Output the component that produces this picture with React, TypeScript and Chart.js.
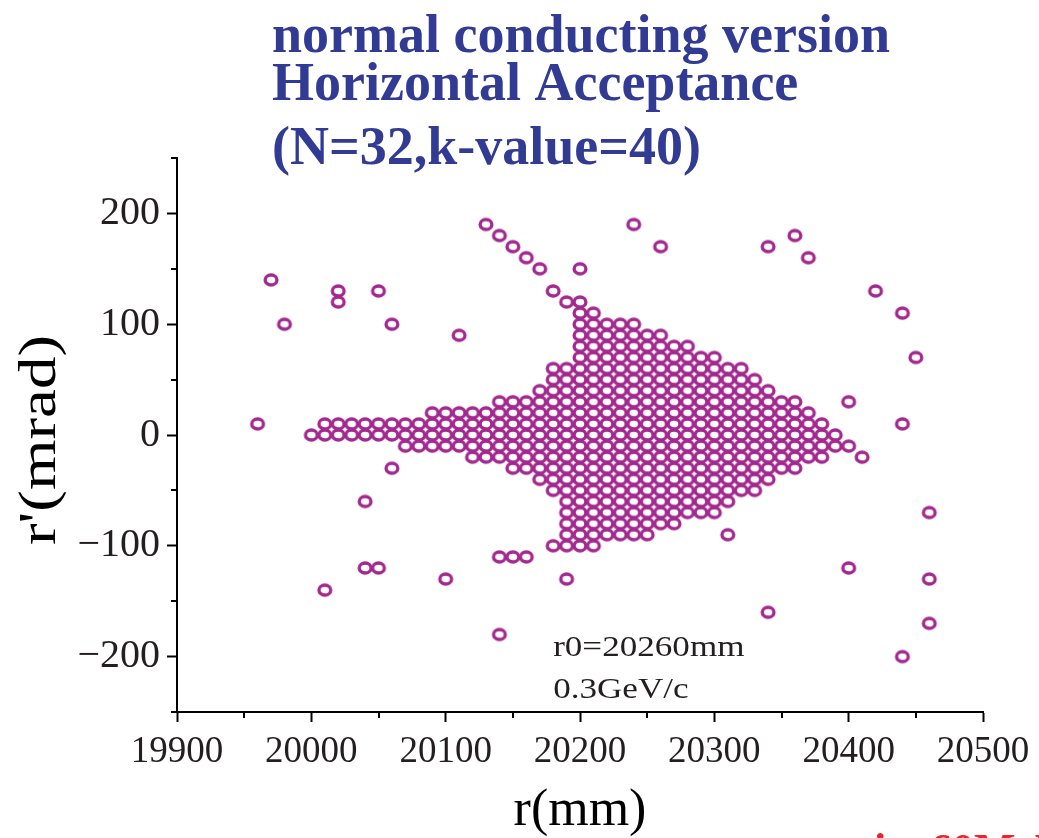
import React, { useEffect, useRef } from 'react';
import { Chart, registerables } from 'chart.js';

Chart.register(...registerables);

// ---- Text ----
const titleLines = ['normal conducting version', 'Horizontal Acceptance', '(N=32,k-value=40)'];
const noteLines = ['r0=20260mm', '0.3GeV/c'];
const xAxisTitle = 'r(mm)';
const yAxisTitle = "r'(mrad)";
const cutTextA = 'in';
const cutTextB = '60MeV';

// ---- Axes ----
const xMin = 19900;
const xMax = 20500;
const yMin = -250;
const yMax = 250;
const xMajorTicks = [19900, 20000, 20100, 20200, 20300, 20400, 20500];
const yMajorTicks = [-200, -100, 0, 100, 200];
const xMinorTicks = [19950, 20050, 20150, 20250, 20350, 20450];
const yMinorTicks = [-250, -150, -50, 50, 150, 250];

// ---- Data: dense accepted region, column by column (r in mm, r' range in mrad, 10 mrad grid) ----
const clusterR = [
  20000, 20010, 20020, 20030, 20040, 20050, 20060, 20070, 20080, 20090,
  20100, 20110, 20120, 20130, 20140, 20150, 20160, 20170, 20180, 20190,
  20200, 20210, 20220, 20230, 20240, 20250, 20260, 20270, 20280, 20290,
  20300, 20310, 20320, 20330, 20340, 20350, 20360, 20370, 20380, 20390,
  20400, 20410,
];
const clusterLow = [
  0, 0, 0, 0, 0, 0, 0, -10, -10, -10,
  -10, -10, -20, -20, -20, -30, -30, -40, -50, -100,
  -100, -100, -90, -90, -90, -90, -80, -80, -70, -70,
  -70, -60, -50, -50, -40, -30, -30, -20, -20, -10,
  -10, -20,
];
const clusterHigh = [
  0, 10, 10, 10, 10, 10, 10, 10, 10, 20,
  20, 20, 20, 20, 30, 30, 30, 40, 60, 60,
  120, 110, 100, 100, 100, 90, 90, 80, 80, 70,
  70, 60, 60, 50, 40, 30, 30, 20, 10, 0,
  -10, -20,
];
const gridStep = 10;

// ---- Data: scattered points ----
const outlierR = [
  19960, 19970, 19980, 20020, 20020, 20050, 20060, 20110, 20130, 20140,
  20150, 20160, 20170, 20180, 20190, 20200, 20240, 20260, 20340, 20360,
  20370, 20420, 20440, 20450, 20400, 20440, 20060, 20040, 20040, 20050,
  20010, 20100, 20140, 20150, 20160, 20140, 20180, 20190, 20310, 20340,
  20400, 20440, 20460, 20460, 20460,
];
const outlierRp = [
  10, 140, 100, 130, 120, 130, 100, 90, 190, 180,
  170, 160, 150, 130, 120, 150, 190, 170, 170, 180,
  160, 130, 110, 70, 30, 10, -30, -60, -120, -120,
  -140, -130, -110, -110, -110, -180, -100, -130, -90, -160,
  -120, -200, -70, -130, -170,
];

const MARKER_COLOR = '#a3288f';
const TITLE_COLOR = '#313b94';
const SERIF = "'Liberation Serif', 'Times New Roman', serif";

function buildCluster() {
  const pts: { x: number; y: number }[] = [];
  clusterR.forEach((r, i) => {
    for (let v = clusterLow[i]; v <= clusterHigh[i]; v += gridStep) {
      pts.push({ x: r, y: v });
    }
  });
  return pts;
}

export default function App() {
  const ref = useRef<HTMLCanvasElement>(null);

  useEffect(() => {
    document.body.style.margin = '0';
    const canvas = ref.current!;

    const marker = document.createElement('canvas');
    marker.width = 20;
    marker.height = 18;
    const m = marker.getContext('2d')!;
    m.strokeStyle = MARKER_COLOR;
    m.lineWidth = 3.3;
    m.beginPath();
    m.ellipse(10, 9, 5.9, 5.0, 0, 0, Math.PI * 2);
    m.stroke();

    const decor = {
      id: 'decor',
      afterDraw(chart: any) {
        const ctx = chart.ctx as CanvasRenderingContext2D;
        const xs = chart.scales.x;
        const ys = chart.scales.y;
        ctx.save();
        // minor ticks
        ctx.strokeStyle = '#000';
        ctx.lineWidth = 2;
        ctx.beginPath();
        xMinorTicks.forEach((v) => {
          const px = Math.round(xs.getPixelForValue(v));
          ctx.moveTo(px, xs.top);
          ctx.lineTo(px, xs.top + 6);
        });
        yMinorTicks.forEach((v) => {
          const py = Math.round(ys.getPixelForValue(v));
          ctx.moveTo(ys.right, py);
          ctx.lineTo(ys.right - 6, py);
        });
        ctx.stroke();

        // y axis title (stretched along its length like the original)
        ctx.save();
        ctx.fillStyle = '#000';
        ctx.font = `52px ${SERIF}`;
        ctx.textAlign = 'center';
        ctx.textBaseline = 'middle';
        ctx.translate(41, (ys.top + ys.bottom) / 2 + 5);
        ctx.rotate(-Math.PI / 2);
        ctx.scale(1.25, 1);
        ctx.fillText(yAxisTitle, 0, 0);
        ctx.restore();

        // title
        ctx.fillStyle = TITLE_COLOR;
        ctx.font = `bold 54px ${SERIF}`;
        ctx.textAlign = 'left';
        ctx.textBaseline = 'alphabetic';
        const baselines = [52, 100, 164];
        titleLines.forEach((t, i) => ctx.fillText(t, 272, baselines[i]));

        // notes
        ctx.fillStyle = '#231f20';
        ctx.font = `30px ${SERIF}`;
        const nx = xs.getPixelForValue(20180);
        const noteY = [ys.getPixelForValue(-200) - 1, ys.getPixelForValue(-237)];
        noteLines.forEach((t, i) => {
          ctx.save();
          ctx.translate(nx, noteY[i]);
          ctx.scale(1.17, 1);
          ctx.fillText(t, 0, 0);
          ctx.restore();
        });

        // cut-off red text at the bottom edge
        ctx.fillStyle = '#e8262a';
        ctx.font = `bold 44px ${SERIF}`;
        ctx.fillText(cutTextA, 874, 864);
        ctx.fillText(cutTextB, 930, 864);
        ctx.restore();
      },
    };

    const chart = new Chart(canvas, {
      type: 'scatter',
      data: {
        datasets: [
          {
            label: 'accepted',
            data: buildCluster(),
            pointStyle: marker as any,
            pointRadius: 6,
            pointHoverRadius: 6,
          },
          {
            label: 'scattered',
            data: outlierR.map((r, i) => ({ x: r, y: outlierRp[i] })),
            pointStyle: marker as any,
            pointRadius: 6,
            pointHoverRadius: 6,
          },
        ],
      },
      options: {
        responsive: false,
        animation: false,
        devicePixelRatio: 1,
        layout: { padding: { left: 0, right: 56, top: 158, bottom: 0 } },
        plugins: {
          legend: { display: false },
          tooltip: { enabled: false },
          title: { display: false },
        },
        scales: {
          x: {
            type: 'linear',
            min: xMin,
            max: xMax,
            afterFit: (s: any) => {
              s.height = 126;
            },
            afterBuildTicks: (s: any) => {
              s.ticks = [...xMajorTicks, ...xMinorTicks].sort((a, b) => a - b).map((v) => ({ value: v }));
            },
            ticks: {
              autoSkip: false,
              maxRotation: 0,
              padding: 8,
              color: '#231f20',
              font: { family: SERIF, size: 37 },
              callback: (v: any) => (xMajorTicks.includes(Number(v)) ? String(v) : ''),
            },
            grid: {
              display: true,
              drawOnChartArea: false,
              drawTicks: true,
              tickLength: 10,
              tickWidth: 2,
              tickColor: (c: any) => (xMajorTicks.includes(c.tick?.value) ? '#000' : 'rgba(0,0,0,0)'),
            },
            border: { display: true, color: '#000', width: 2 },
            title: {
              display: true,
              text: xAxisTitle,
              color: '#000',
              font: { family: SERIF, size: 52 },
              padding: { top: 0, bottom: -5 },
            },
          },
          y: {
            type: 'linear',
            min: yMin,
            max: yMax,
            afterFit: (s: any) => {
              s.width = 177;
            },
            afterBuildTicks: (s: any) => {
              s.ticks = [...yMajorTicks, ...yMinorTicks].sort((a, b) => a - b).map((v) => ({ value: v }));
            },
            ticks: {
              autoSkip: false,
              padding: 7,
              color: '#231f20',
              font: { family: SERIF, size: 40 },
              callback: (v: any) =>
                yMajorTicks.includes(Number(v)) ? String(v).replace('-', '\u2212') : '',
            },
            grid: {
              display: true,
              drawOnChartArea: false,
              drawTicks: true,
              tickLength: 10,
              tickWidth: 2,
              tickColor: (c: any) => (yMajorTicks.includes(c.tick?.value) ? '#000' : 'rgba(0,0,0,0)'),
            },
            border: { display: true, color: '#000', width: 2 },
            title: { display: false },
          },
        },
      },
      plugins: [decor],
    });

    return () => chart.destroy();
  }, []);

  return (
    <div style={{ width: 1039, height: 838, position: 'relative', overflow: 'hidden' }}>
      <canvas ref={ref} width={1039} height={838} style={{ display: 'block', width: 1039, height: 838 }} />
    </div>
  );
}
